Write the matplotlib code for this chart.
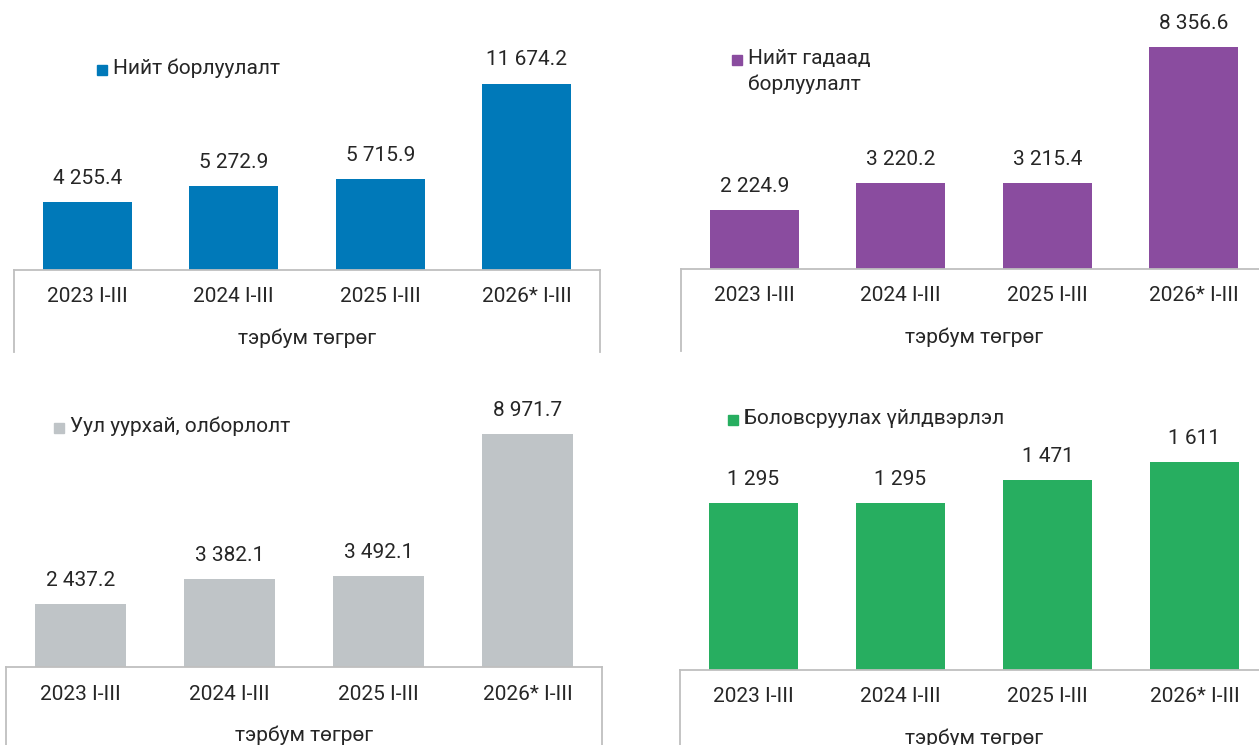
import matplotlib.pyplot as plt
from matplotlib.patches import Rectangle

plt.rcParams['font.family'] = ['Roboto', 'DejaVu Sans']

W, H = 1259, 745

# data (тэрбум төгрөг)
cats = ['2023 I-III', '2024 I-III', '2025 I-III', '2026* I-III']
total_sales = [4255.4, 5272.9, 5715.9, 11674.2]
export_sales = [2224.9, 3220.2, 3215.4, 8356.6]
mining = [2437.2, 3382.1, 3492.1, 8971.7]
manufacturing = [1295, 1295, 1471, 1611]

names = ['Нийт борлуулалт', 'Нийт гадаад\nборлуулалт',
         'Уул уурхай, олборлолт', 'Боловсруулах үйлдвэрлэл']
colors = ['#0079B9', '#8A4C9F', '#BFC4C7', '#27AE60']
unit = 'тэрбум төгрөг'
txt_col = '#262626'
grid_col = '#BFBFBF'

fig = plt.figure(figsize=(W / 100, H / 100), dpi=100)


def fmt(v, dec):
    return f'{v:,.{dec}f}'.replace(',', ' ')


def panel(vals, name, color, box, ymax, frame_h, legend_xy, dec=1):
    left, right, top, bottom = box
    hpx = bottom - top
    ax = fig.add_axes([left / W, 1 - bottom / H, (right - left) / W, hpx / H])
    x = range(len(cats))
    bars = ax.bar(x, vals, width=0.61, color=color)
    ax.set_xlim(-0.5, len(cats) - 0.5)
    ax.set_ylim(0, ymax)
    for s in ax.spines.values():
        s.set_visible(False)
    ax.set_yticks([])
    ax.set_xticks(list(x))
    ax.set_xticklabels([])
    for i, c in enumerate(cats):
        ax.text(i, -27 / hpx, c, transform=ax.get_xaxis_transform(),
                ha='center', va='center', fontsize=15, color=txt_col,
                clip_on=False)
    ax.tick_params(length=0)
    ax.text(0.5, -68 / hpx, unit, transform=ax.transAxes, ha='center',
            va='center', fontsize=15, color=txt_col, clip_on=False)
    d = frame_h / hpx
    kw = dict(transform=ax.transAxes, color=grid_col, lw=1.3, clip_on=False)
    ax.plot([0, 1], [0, 0], **kw)
    ax.plot([0, 0], [0, -d], **kw)
    ax.plot([1, 1], [0, -d], **kw)
    for b, v in zip(bars, vals):
        ax.annotate(fmt(v, dec), (b.get_x() + b.get_width() / 2, v),
                    xytext=(0, 17), textcoords='offset points', ha='center',
                    va='center', fontsize=15, color=txt_col)
    lx, ly = legend_xy
    fig.add_artist(Rectangle((lx / W, 1 - (ly + 5) / H), 10 / W, 10 / H,
                             transform=fig.transFigure, color=color))
    fig.text((lx + 16) / W, 1 - (ly - 11) / H, name, ha='left', va='top',
             fontsize=15, color=txt_col, linespacing=1.4)


panel(total_sales, names[0], colors[0], (14, 600, 20, 270), 15650, 82, (97, 70))
panel(export_sales, names[1], colors[1], (681, 1267, 20, 269), 9360, 82, (732, 60))
panel(mining, names[2], colors[2], (6, 602, 400, 667), 10270, 120, (54, 428))
panel(manufacturing, names[3], colors[3], (680, 1268, 400, 670), 2093, 120,
      (728, 420), dec=0)

fig.savefig('out.png', dpi=100)
